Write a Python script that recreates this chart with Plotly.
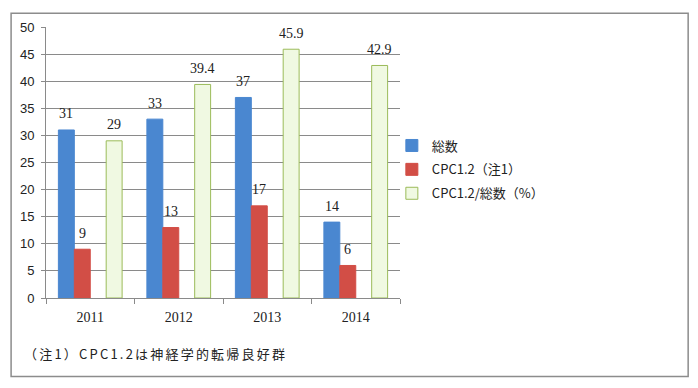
import plotly.graph_objects as go

years = ["2011", "2012", "2013", "2014"]
total = [31, 33, 37, 14]
cpc12 = [9, 13, 17, 6]
ratio = [29, 39.4, 45.9, 42.9]

names = ["総数", "CPC1.2（注1）", "CPC1.2/総数（%）"]
fills = ["#4a87d0", "#d24e46", "#f0f9e2"]
lines = ["#4a87d0", "#d24e46", "#9bbb59"]
slots = [0, 1, 3]
slot_w = 0.18

fig = go.Figure()
annotations = []
for k, vals in enumerate([total, cpc12, ratio]):
    off = -2 * slot_w + slots[k] * slot_w
    fig.add_trace(go.Bar(
        x=years, y=vals, name=names[k], width=slot_w, offset=off,
        marker=dict(color=fills[k], line=dict(color=lines[k], width=1)),
        legendgroup=str(k),
    ))
    for i, v in enumerate(vals):
        annotations.append(dict(
            x=i + off + slot_w / 2, y=v, xref="x", yref="y",
            text=str(v), showarrow=False, yanchor="middle", yshift=16,
            font=dict(family="Liberation Serif", size=14, color="#222"),
        ))

annotations.append(dict(
    x=-0.068, y=-0.203, xref="paper", yref="paper", xanchor="left", yanchor="middle",
    text='<span style="letter-spacing:2.2px">（注1）CPC1.2は神経学的転帰良好群</span>',
    showarrow=False,
    font=dict(family="Noto Sans CJK JP", size=13, color="#222"),
))

fig.update_layout(
    width=682, height=372,
    margin=dict(l=37, r=290, t=14, b=82),
    paper_bgcolor="white", plot_bgcolor="white",
    barmode="overlay",
    showlegend=True,
    legend=dict(x=0.977, y=0.618, xanchor="left", yanchor="top",
                font=dict(family="Noto Sans CJK JP", size=13, color="#222"),
                tracegroupgap=4, bgcolor="rgba(0,0,0,0)"),
    annotations=annotations,
    shapes=[dict(type="rect", xref="paper", yref="paper",
                 x0=-0.0986, x1=1.814, y0=-0.29, y1=1.051,
                 line=dict(color="#8c8c8c", width=1.5), layer="below")],
)
fig.update_yaxes(range=[0, 50], dtick=5, showgrid=True, gridcolor="#8a8a8a", gridwidth=1,
                 showline=True, linecolor="#8a8a8a", ticks="outside", ticklen=4, tickcolor="#8a8a8a",
                 tickfont=dict(family="Liberation Sans", size=13, color="#222"), zeroline=False,
                 ticklabelstandoff=4)
fig.update_xaxes(tickson="boundaries", ticks="outside", ticklen=5, tickcolor="#8a8a8a",
                 showline=True, linecolor="#8a8a8a", showgrid=False,
                 tickfont=dict(family="Liberation Serif", size=14, color="#222"),
                 ticklabelstandoff=6)

fig.write_html("out.html")
